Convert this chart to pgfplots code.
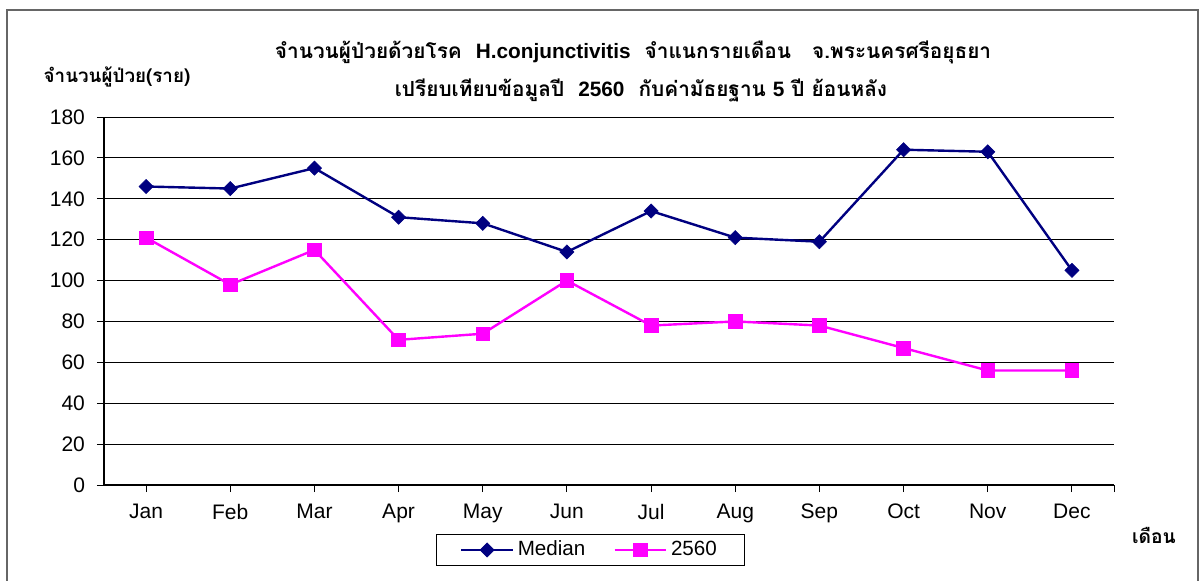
\documentclass[border=0pt]{standalone}
\usepackage{pgfplots}
\pgfplotsset{compat=1.18}
\usepackage{fontspec}
\setmainfont{Liberation Sans}
\newfontfamily\thaifont[Script=Thai]{Loma}
\definecolor{navy}{RGB}{0,0,128}
\definecolor{mag}{RGB}{255,0,255}
\begin{document}
\begin{tikzpicture}[x=0.5pt,y=0.5pt]
\useasboundingbox (0,0) rectangle (1201,580);
\draw[line width=1pt, color=gray!80!black] (7,-5) -- (7,570) -- (1198,570) -- (1198,-5);
\begin{axis}[at={(52pt,47.5pt)}, anchor=south west, width=505pt, height=184pt, scale only axis,
  xmin=-0.5, xmax=11.5, ymin=0, ymax=180,
  xtick={0,...,11}, xticklabels={Jan,Feb,Mar,Apr,May,Jun,Jul,Aug,Sep,Oct,Nov,Dec},
  extra x ticks={11.5}, extra x tick labels={}, extra x tick style={grid=none},
  ytick={0,20,...,180},
  axis x line*=bottom, axis y line*=left,
  axis line style={black, line width=0.6pt, -},
  ymajorgrids, grid style={black, line width=0.5pt},
  tick align=outside, major tick length=3.5pt, tick style={black, line width=0.5pt},
  /pgf/number format/assume math mode=true,
  ticklabel style={font=\fontsize{10.5}{12}\selectfont},
  xticklabel style={yshift=-2.5pt},
  yticklabel style={xshift=-2.5pt},
  legend style={at={(0.4817,-0.1766)}, anchor=center, legend columns=2, draw=black, line width=0.5pt,
    font=\fontsize{10.3}{12}\selectfont, inner xsep=12pt, inner ysep=1.5pt,
    /tikz/every even column/.append style={column sep=12pt}},
  legend image code/.code={\draw[mark repeat=2,mark phase=2,#1] plot coordinates {(0cm,0cm) (0.45cm,0cm) (0.9cm,0cm)};},
]
\addplot[navy, line width=1.2pt, mark=square*, mark size=2.5pt, mark options={solid, rotate=45, fill=navy, draw=navy, line width=0.3pt}]
  coordinates {(0,146) (1,145) (2,155) (3,131) (4,128) (5,114) (6,134) (7,121) (8,119) (9,164) (10,163) (11,105)};
\addlegendentry{Median}
\addplot[mag, line width=1.2pt, mark=square*, mark size=3.4pt, mark options={solid, fill=mag, draw=mag, line width=0.3pt}]
  coordinates {(0,121) (1,98) (2,115) (3,71) (4,74) (5,100) (6,78) (7,80) (8,78) (9,67) (10,56) (11,56)};
\addlegendentry{2560}
\end{axis}
\node[font=\fontsize{10.4}{12}\selectfont\bfseries] at (633,528) {\thaifont จำนวนผู้ป่วยด้วยโรค \ \textrm{\normalfont\bfseries H.conjunctivitis} \ จำแนกรายเดือน \ \ จ.พระนครศรีอยุธยา};
\node[font=\fontsize{10.4}{12}\selectfont\bfseries] at (641,490) {\thaifont เปรียบเทียบข้อมูลปี \ \textrm{\normalfont\bfseries 2560} \ กับค่ามัธยฐาน \textrm{\normalfont\bfseries 5} ปี ย้อนหลัง};
\node[font=\fontsize{9.4}{11}\selectfont\bfseries] at (117,503) {\thaifont จำนวนผู้ป่วย(ราย)};
\node[font=\fontsize{9.6}{11}\selectfont\bfseries] at (1154,45) {\thaifont เดือน};
\end{tikzpicture}
\end{document}
